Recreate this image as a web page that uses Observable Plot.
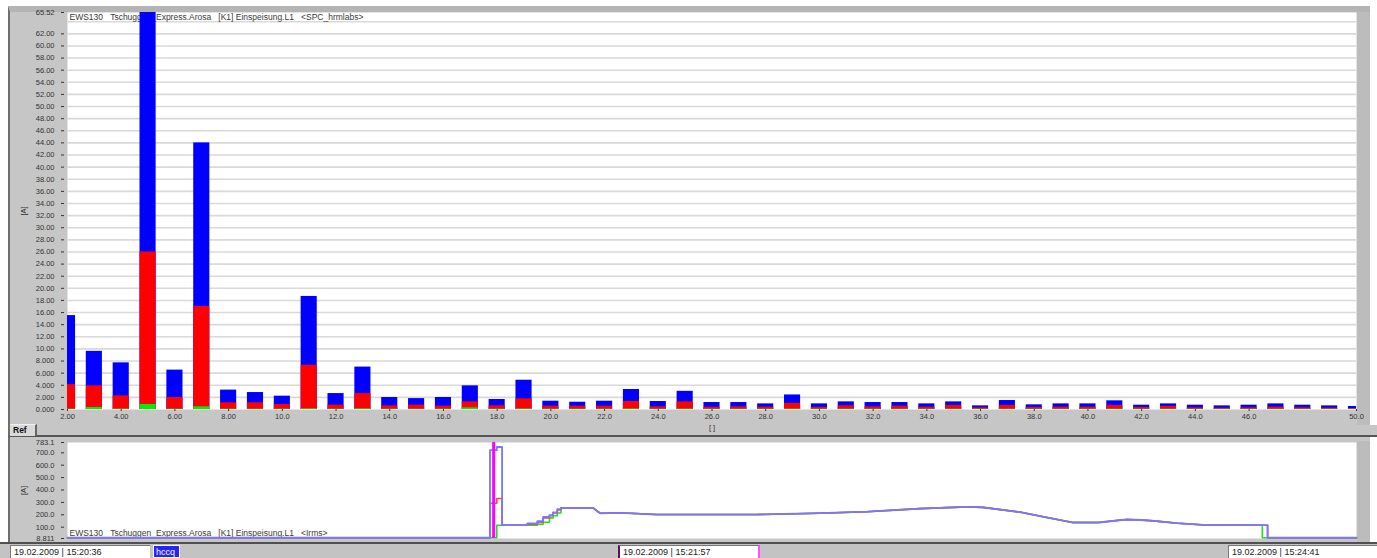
<!DOCTYPE html>
<html><head><meta charset="utf-8">
<script src="https://cdn.jsdelivr.net/npm/d3@7"></script>
<script src="https://cdn.jsdelivr.net/npm/@observablehq/plot@0.6"></script>
<style>
html,body{margin:0;padding:0}
body{width:1377px;height:558px;overflow:hidden;background:#fff;position:relative;font-family:"Liberation Sans",Arial,sans-serif}
.a{position:absolute;box-sizing:border-box}
#topPanel{left:8px;top:6px;width:1362px;height:420px;background:#c6c6c6;border-left:2px solid #6e6e6e;border-top:6px solid #b4b4b4}
#tabRow{left:8px;top:425px;width:1369px;height:12px;background:#c6c6c6;border-left:2px solid #6e6e6e;border-bottom:2px solid #555}
#refTab{left:10px;top:424px;width:27px;height:12px;background:#dadada;border-right:2px solid #666;border-top:1px solid #f0f0f0;font-weight:bold;font-size:8.5px;line-height:11px;padding-left:3px;color:#111}
#botPanel{left:8px;top:437px;width:1362px;height:106px;background:#c6c6c6;border-left:2px solid #6e6e6e}
#rb1{left:1357px;top:12px;width:13px;height:413px;background:#bcbcbc}
#rb2{left:1357px;top:441px;width:13px;height:102px;background:#bcbcbc}
#strip{left:0;top:542px;width:1377px;height:16px;background:#c3c3c3;border-top:2px solid #505050}
.box{background:#fff;font-size:9px;line-height:12px;padding-left:3px;color:#222;border-top:1px solid #777;border-left:1px solid #777;white-space:nowrap}
#chartTop{left:0;top:0}
#chartBot{left:0;top:437px}
</style></head><body>
<div class="a" id="topPanel"></div>
<div class="a" id="rb1"></div>
<div class="a" id="tabRow"></div>
<div class="a" id="refTab">Ref</div>
<div class="a" id="botPanel"></div>
<div class="a" id="rb2"></div>
<div class="a" id="strip"></div>
<div class="a box" style="left:10px;top:545px;width:140px;height:13px">19.02.2009 | 15:20:36</div>
<div class="a" style="left:153px;top:545px;width:27px;height:13px;background:#2424ff;color:#fff;font-size:9px;line-height:12px;padding-left:2px;border:1px solid #fff">hccq</div>
<div class="a box" style="left:618px;top:545px;width:142px;height:13px;border-left:2px solid #5a105a;border-right:2px solid #ff50ff">19.02.2009 | 15:21:57</div>
<div class="a box" style="left:1228px;top:545px;width:149px;height:13px">19.02.2009 | 15:24:41</div>
<div class="a" id="chartTop"></div>
<div class="a" id="chartBot"></div>
<script>
// ---------- Harmonic spectrum (top) ----------
const harmonics = [2,3,4,5,6,7,8,9,10,11,12,13,14,15,16,17,18,19,20,21,22,23,24,25,26,27,28,29,30,31,32,33,34,35,36,37,38,39,40,41,42,43,44,45,46,47,48,49,50];
const blueVals = [15.5,9.6,7.7,65.52,6.5,44.0,3.2,2.8,2.2,18.66,2.63,7.0,1.98,1.8,1.98,3.9,1.65,4.83,1.37,1.2,1.37,3.3,1.32,3.0,1.15,1.15,0.93,2.4,0.93,1.26,1.15,1.15,0.93,1.26,0.6,1.48,0.77,0.93,0.93,1.43,0.71,0.93,0.71,0.6,0.71,0.93,0.71,0.6,0.5];
const redVals = [4.1,3.9,2.25,26.0,1.98,17.0,1.1,1.1,0.82,7.3,0.71,2.63,0.6,0.71,0.55,1.25,0.6,1.75,0.55,0.55,0.55,1.32,0.44,1.26,0.38,0.44,0.38,1.0,0.33,0.6,0.44,0.55,0.38,0.66,0.27,0.66,0.33,0.38,0.38,0.66,0.33,0.5,0.27,0.22,0.27,0.38,0.27,0.22,0.16];
const greenVals = [0.06,0.33,0.08,0.82,0.06,0.44,0.06,0.06,0.06,0.12,0.06,0.12,0.06,0.06,0.06,0.27,0.06,0.1,0.06,0.06,0.06,0.1,0.06,0.08,0.06,0.06,0.06,0.08,0.06,0.06,0.06,0.06,0.06,0.06,0.06,0.06,0.06,0.06,0.06,0.06,0.06,0.06,0.06,0.06,0.06,0.06,0.06,0.06,0.06];
const xTicks = [2,4,6,8,10,12,14,16,18,20,22,24,26,28,30,32,34,36,38,40,42,44,46,50];
const yTicks = [0,2,4,6,8,10,12,14,16,18,20,22,24,26,28,30,32,34,36,38,40,42,44,46,48,50,52,54,56,58,60,62,65.52];
const yGrid = [2,4,6,8,10,12,14,16,18,20,22,24,26,28,30,32,34,36,38,40,42,44,46,48,50,52,54,56,58,60,62,64];
const yMax = 65.52;
const titleTop = "EWS130\u00a0\u00a0\u00a0Tschuggen_Express.Arosa\u00a0\u00a0\u00a0[K1]\u00a0Einspeisung.L1\u00a0\u00a0\u00a0<SPC_hrmlabs>";
const barHalf = 0.3;

const fmtY = v => v === yMax ? "65.52" : (v < 10 ? v.toFixed(3) : v.toFixed(2));
const fmtX = v => v < 10 ? v.toFixed(2) : v.toFixed(1);
const font = "Liberation Sans, Arial, sans-serif";

const topChart = Plot.plot({
  width: 1377, height: 437,
  marginLeft: 67, marginRight: 21, marginTop: 12, marginBottom: 28,
  style: {background: "transparent", fontFamily: font, fontSize: "7.5px", color: "#333", overflow: "visible"},
  x: {domain: [2, 50], labelArrow: "none"},
  y: {domain: [0, yMax], labelArrow: "none"},
  marks: [
    Plot.frame({fill: "white"}),
    Plot.ruleY(yGrid, {stroke: "#d9d9d9", strokeWidth: 1.6}),
    Plot.text([titleTop], {text: d => d, frameAnchor: "top-left", dx: 2, dy: 1, lineAnchor: "top", textAnchor: "start", fontSize: 8.5, fill: "#3a3a3a"}),
    Plot.rectY(harmonics, {x1: d => d - barHalf, x2: d => d + barHalf, y1: 0, y2: (d, i) => blueVals[i], fill: "#0000ff", clip: true}),
    Plot.rectY(harmonics, {x1: d => d - barHalf, x2: d => d + barHalf, y1: 0, y2: (d, i) => redVals[i], fill: "#ff0000", clip: true}),
    Plot.rectY(harmonics, {x1: d => d - barHalf, x2: d => d + barHalf, y1: 0, y2: (d, i) => greenVals[i], fill: "#00ee00", clip: true}),
    Plot.axisY({ticks: yTicks, tickFormat: fmtY, tickSize: 3, dx: -3, tickPadding: 7, label: "[A]", labelArrow: "none", labelAnchor: "center", labelOffset: 47, fontSize: 7.5}),
    Plot.axisX({ticks: xTicks, tickFormat: fmtX, tickSize: 2, tickPadding: 2, label: "[\u00a0]", labelArrow: "none", labelAnchor: "center", labelOffset: 20, fontSize: 7.5})
  ]
});
document.getElementById("chartTop").append(topChart);

// ---------- RMS current over time (bottom) ----------
// seconds after 19.02.2009 15:20:36
const tSec = [0,80.3,80.3,81.6,81.6,82.6,82.6,87.4,87.4,89.3,89.3,90.4,90.4,91.6,91.6,92.3,92.3,93.1,93.1,93.8,93.8,99.9,100.7,101.3,105,112,120,131,143,152,162,171,174,181,186,191,196,199,201.4,204,206.4,211,216,227.1,227.1,228.1,228.1,245];
const rmsBlue = [15,15,721,721,747,747,116,116,130,130,148,148,183,183,197,197,219,219,245,245,256,256,229,212,216,202,202,202,213,225,250,264,260,222,180,138,138,152,162,158,151,132,118,116,116,116,15,15];
const rmsRed = [15,15,293,293,331,331,116,116,124,124,140,140,175,175,192,192,214,214,240,240,256,256,229,212,216,202,202,202,213,225,250,264,260,222,180,138,138,152,162,158,151,132,118,116,116,116,15,15];
const rmsGreen = [15,15,15,15,116,116,116,116,116,116,124,124,140,140,175,175,192,192,214,214,256,256,229,212,216,202,202,202,213,225,250,264,260,222,180,138,138,152,162,158,151,132,118,116,15,15,15,15];
const cursorSec = 81;
const tMax = 245;
const y2Ticks = [8.811,100,200,300,400,500,600,700,783.1];
const y2Min = 8.811, y2Max = 783.1;
const titleBot = "EWS130\u00a0\u00a0\u00a0Tschuggen_Express.Arosa\u00a0\u00a0\u00a0[K1]\u00a0Einspeisung.L1\u00a0\u00a0\u00a0<Irms>";
const fmtY2 = v => v === y2Min ? "8.811" : v.toFixed(1);
const idx = tSec.map((d, i) => i);

const botChart = Plot.plot({
  width: 1377, height: 106,
  marginLeft: 67, marginRight: 21, marginTop: 5, marginBottom: 5,
  style: {background: "transparent", fontFamily: font, fontSize: "7.5px", color: "#333", overflow: "visible"},
  x: {domain: [0, tMax], axis: null},
  y: {domain: [y2Min, y2Max], labelArrow: "none"},
  marks: [
    Plot.frame({fill: "white"}),
    Plot.text([titleBot], {text: d => d, frameAnchor: "bottom-left", dx: 2, dy: -3, lineAnchor: "bottom", textAnchor: "start", fontSize: 8.5, fill: "#3a3a3a"}),
    Plot.line(idx, {x: i => tSec[i], y: i => rmsGreen[i], stroke: "#22dd22", strokeWidth: 1.6}),
    Plot.line(idx, {x: i => tSec[i], y: i => rmsRed[i], stroke: "#ff4444", strokeWidth: 1.6}),
    Plot.line(idx, {x: i => tSec[i], y: i => rmsBlue[i], stroke: "#7777ff", strokeWidth: 1.8}),
    Plot.ruleX([cursorSec], {stroke: "#ff00ff", strokeWidth: 3}),
    Plot.axisY({ticks: y2Ticks, tickFormat: fmtY2, tickSize: 3, dx: -3, tickPadding: 7, label: "[A]", labelArrow: "none", labelAnchor: "center", labelOffset: 47, fontSize: 7.5})
  ]
});
document.getElementById("chartBot").append(botChart);
</script>
</body></html>
